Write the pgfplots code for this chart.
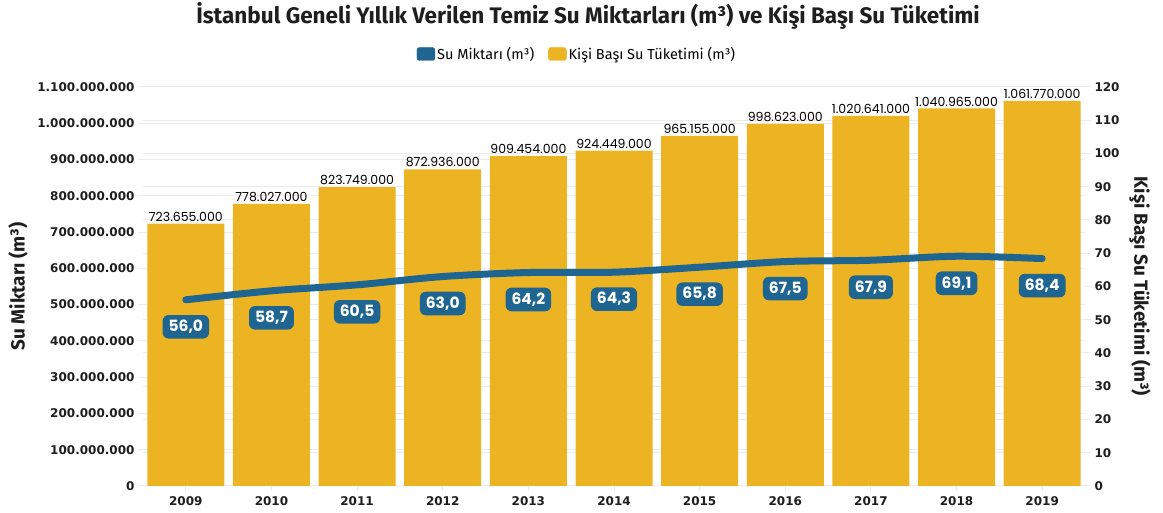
\documentclass[border=0pt]{standalone}
\usepackage{fontspec}
\setmainfont{Fira Sans}
\newfontfamily\tickfont{DejaVu Sans}
\newfontfamily\popfont{Poppins}
\usepackage{pgfplots}
\usepackage{pgfplotstable}
\pgfplotsset{compat=1.18}
\definecolor{baryellow}{RGB}{236,180,34}
\definecolor{lineblue}{RGB}{31,101,145}
\definecolor{gridgray}{RGB}{236,236,236}
\definecolor{txt}{RGB}{30,30,30}

\pgfplotstableread{
x y lab
0 723655000 723.655.000
1 778027000 778.027.000
2 823749000 823.749.000
3 872936000 872.936.000
4 909454000 909.454.000
5 924449000 924.449.000
6 965155000 965.155.000
7 998623000 998.623.000
8 1020641000 1.020.641.000
9 1040965000 1.040.965.000
10 1061770000 1.061.770.000
}\barsdata

\pgfplotstableread{
x y lab
0 56.0 56,0
1 58.7 58,7
2 60.5 60,5
3 63.0 63,0
4 64.2 64,2
5 64.3 64,3
6 65.8 65,8
7 67.5 67,5
8 67.9 67,9
9 69.1 69,1
10 68.4 68,4
}\linedata

\begin{document}
\begin{tikzpicture}
\useasboundingbox (0,0) rectangle (1163pt,513pt);
\begin{axis}[
  at={(143pt,27pt)}, anchor=south west,
  scale only axis, width=942pt, height=399pt,
  xmin=-0.5, xmax=10.5, ymin=0, ymax=1100000000,
  axis y line*=left, axis x line*=bottom,
  axis line style={draw=none},
  xtick={0,1,2,3,4,5,6,7,8,9,10},
  xticklabels={2009,2010,2011,2012,2013,2014,2015,2016,2017,2018,2019},
  ytick={0,100000000,200000000,300000000,400000000,500000000,600000000,700000000,800000000,900000000,1000000000,1100000000},
  yticklabels={0,100.000.000,200.000.000,300.000.000,400.000.000,500.000.000,600.000.000,700.000.000,800.000.000,900.000.000,1.000.000.000,1.100.000.000},
  extra y ticks={91666667,183333333,275000000,366666667,458333333,641666667,733333333,825000000,916666667,1008333333},
  extra y tick labels={},
  extra y tick style={grid=major, tick style={draw=none}},
  ymajorgrids, grid style={gridgray, line width=1pt},
  tick align=outside, major tick length=5pt,
  tick style={gridgray, line width=1pt},
  ticklabel style={font=\tickfont\bfseries\fontsize{12}{12}\selectfont, text=txt},
  xticklabel style={yshift=-2pt},
  scaled y ticks=false,
  ybar, bar width=77pt, bar shift=0pt,
  nodes near coords, point meta=explicit symbolic,
  nodes near coords style={font=\popfont\fontsize{12.5}{12.5}\selectfont, text=black, anchor=south, inner sep=2pt},
  ylabel={Su Miktarı (m³)},
  ylabel style={at={(axis description cs:-0.1327,0.5)}, anchor=center, font=\bfseries\fontsize{19}{19}\selectfont, text=txt},
  title={İstanbul Geneli Yıllık Verilen Temiz Su Miktarları (m³) ve Kişi Başı Su Tüketimi},
  title style={at={(axis description cs:0.4724,1.163)}, anchor=center, font=\bfseries\fontsize{22.5}{22.5}\selectfont, text=txt},
  legend style={at={(axis description cs:0.4607,1.0827)}, anchor=center, draw=none, fill=none,
    font=\fontsize{14.5}{14.5}\selectfont, legend columns=2, /tikz/every even column/.append style={column sep=12pt}},
]
\addlegendimage{legend image code/.code={\fill[lineblue,rounded corners=2.5pt] (0pt,-6.5pt) rectangle (18pt,6.5pt);}}
\addlegendentry{Su Miktarı (m³)}
\addlegendimage{legend image code/.code={\fill[baryellow,rounded corners=2.5pt] (0pt,-6.5pt) rectangle (18pt,6.5pt);}}
\addlegendentry{Kişi Başı Su Tüketimi (m³)}
\addplot[fill=baryellow, draw=none] table[x=x, y=y, meta=lab] {\barsdata};
\end{axis}
\begin{axis}[
  at={(143pt,27pt)}, anchor=south west,
  scale only axis, width=942pt, height=399pt,
  xmin=-0.5, xmax=10.5, ymin=0, ymax=120,
  axis y line*=right, axis x line=none,
  axis line style={draw=none},
  ytick={0,10,20,30,40,50,60,70,80,90,100,110,120},
  yticklabels={0,10,20,30,40,50,60,70,80,90,100,110,120},
  tick align=outside, major tick length=6pt,
  tick style={gridgray, line width=1pt},
  yticklabel style={font=\tickfont\bfseries\fontsize{12}{12}\selectfont, text=txt},
  ylabel={Kişi Başı Su Tüketimi (m³)},
  ylabel style={at={(axis description cs:1.0584,0.5)}, anchor=center, rotate=180, font=\bfseries\fontsize{19}{19}\selectfont, text=txt},
  nodes near coords, point meta=explicit symbolic,
  nodes near coords style={font=\popfont\bfseries\fontsize{15.5}{15.5}\selectfont, text=white, fill=lineblue,
    rounded corners=6pt, anchor=center, yshift=-27pt, inner xsep=6pt, inner ysep=5pt},
]
\addplot[lineblue, line width=7pt, smooth, line cap=round, mark=none] table[x=x, y=y, meta=lab] {\linedata};
\end{axis}
\end{tikzpicture}
\end{document}
